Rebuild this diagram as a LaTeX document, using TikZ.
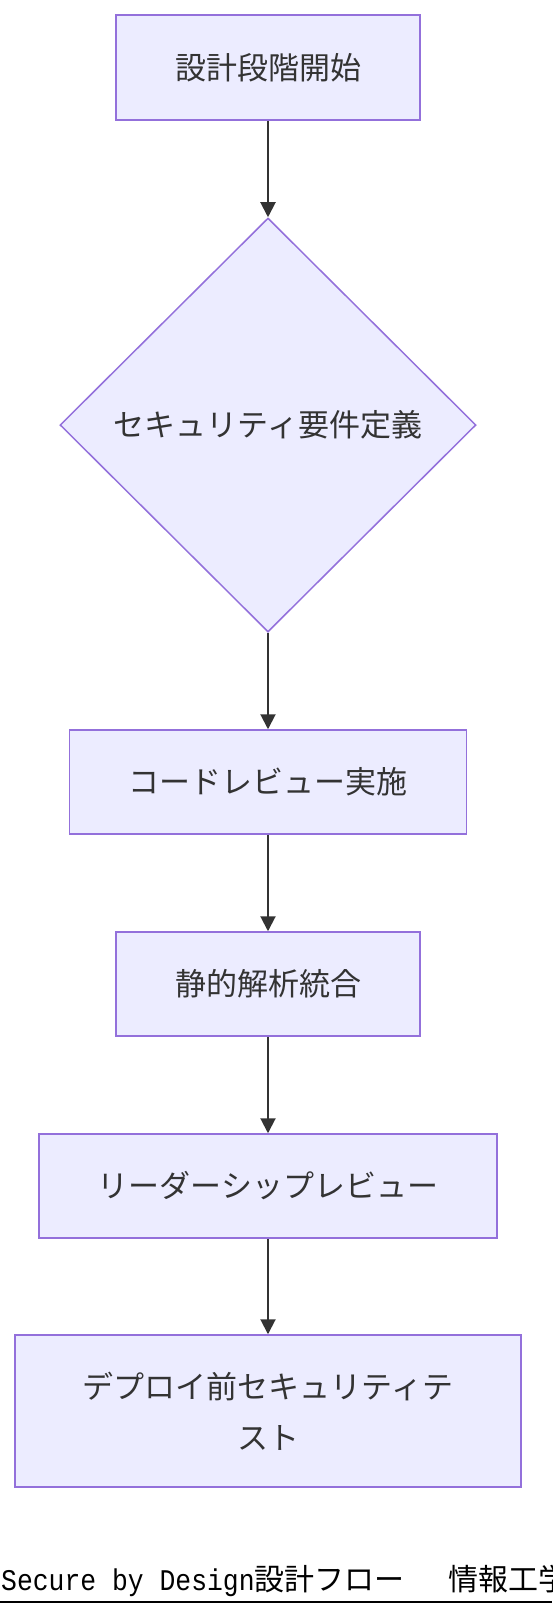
\documentclass[tikz,border=0pt]{standalone}
\usepackage{fontspec}
\setmainfont{Noto Sans CJK JP}
\newfontfamily\capcjk{Noto Sans CJK JP}
\newfontfamily\caplat[FakeStretch=0.88]{Liberation Mono}
\usetikzlibrary{shapes.geometric,arrows.meta}
\definecolor{boxfill}{HTML}{ECECFF}
\definecolor{boxline}{HTML}{9370DB}
\definecolor{inkgray}{HTML}{333333}
\begin{document}
\begin{tikzpicture}[x=1pt,y=1pt,
	flowbox/.style={draw=boxline,fill=boxfill,line width=1.5pt,inner sep=0pt,
		text=inkgray,font=\fontsize{31}{51}\selectfont,align=center},
	flowarrow/.style={draw=inkgray,line width=2pt,-{Triangle[length=15pt,width=15pt]}}]
	\path[use as bounding box,clip] (0,0) rectangle (552,-1612);
	\node[flowbox,minimum width=304pt,minimum height=105pt] (start) at (268,-67.5) {設計段階開始};
	\node[flowbox,shape=diamond,minimum width=416pt,minimum height=414pt] (req) at (268,-425) {セキュリティ要件定義};
	\node[flowbox,minimum width=397pt,minimum height=104pt] (review) at (268,-782) {コードレビュー実施};
	\node[flowbox,minimum width=304pt,minimum height=104pt] (static) at (268,-984) {静的解析統合};
	\node[flowbox,minimum width=458pt,minimum height=104pt] (leader) at (268,-1186) {リーダーシップレビュー};
	\node[flowbox,minimum width=506pt,minimum height=152pt] (test) at (268,-1411) {デプロイ前セキュリティテ\\スト};
	\draw[flowarrow] (start) -- (req);
	\draw[flowarrow] (req) -- (review);
	\draw[flowarrow] (review) -- (static);
	\draw[flowarrow] (static) -- (leader);
	\draw[flowarrow] (leader) -- (test);
	% caption
	\node[anchor=base west,inner sep=0pt,text=black] (caption) at (1,-1590)
		{{\caplat\fontsize{30}{30}\selectfont Secure by Design}{\capcjk\fontsize{30}{30}\selectfont 設計フロー　\hspace{14pt}情報工学}};
	\draw[line width=2.5pt,black] (0,-1602) -- (552,-1602);
\end{tikzpicture}
\end{document}
